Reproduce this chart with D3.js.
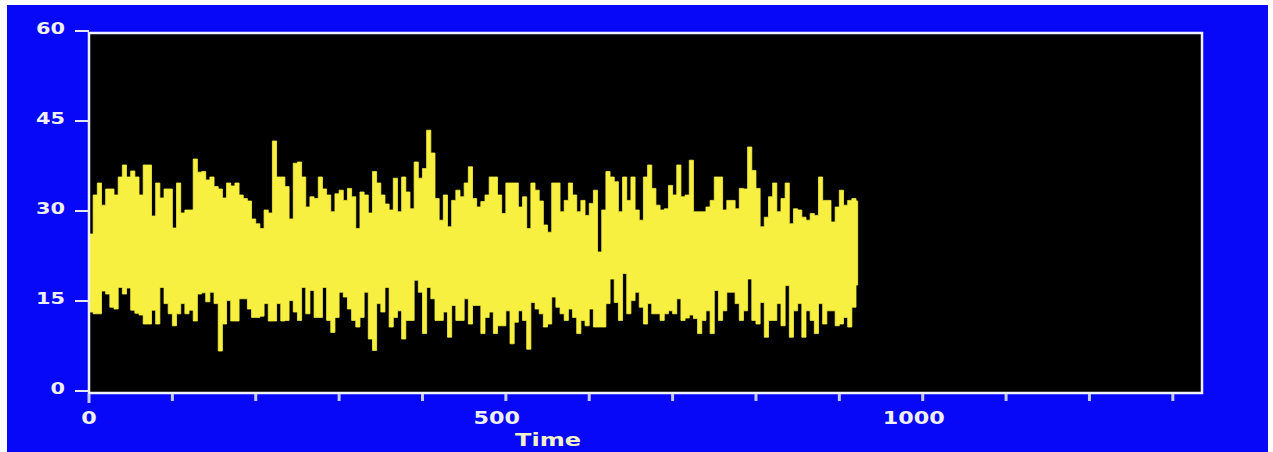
<!DOCTYPE html>
<html>
<head>
<meta charset="utf-8">
<script src="https://cdn.jsdelivr.net/npm/d3@7"></script>
<style>
  html, body { margin: 0; padding: 0; background: #ffffff; }
  svg { display: block; }
</style>
</head>
<body>
<svg id="chart"></svg>
<script>
// signal envelope, one value per 5 time units, starting at time 0
const timeStep = 5;

const upper = [
  26.5, 33, 35, 31.3, 34, 34, 33, 36, 38, 36, 37, 36, 33, 38, 38, 29.5, 35, 32.5, 34, 34,
  27.5, 35, 30, 30.5, 30.5, 39, 36.8, 36.9, 35.5, 36, 34.4, 34, 32.5, 35, 34.5, 35, 33, 32.4, 32, 29,
  28.2, 27.4, 30.5, 30, 42, 36, 36,
  34.4, 29, 38.3, 38.5, 36, 31, 32.7, 32.4, 36, 34, 33, 30.2, 33.2, 33.8, 32.1, 34.1, 32.7, 27.4, 33.5, 33,
  30, 36.9, 35, 33, 31.5, 30.5, 35.8, 30.2, 36, 33.5, 30.7, 38.5, 35.8, 37.4, 43.8, 40, 32.4, 28.8, 33, 27.7,
  32.1, 33.8, 32.7, 35, 37.7, 32.4, 31,
  31.9, 33, 36, 36, 33, 29.9, 35, 35, 35, 31, 32.7, 27.4, 35, 33.8, 32, 28, 26.8, 35, 35, 30.2,
  32.1, 35, 33, 30.2, 32.1, 29.6, 31.6, 33.8, 23.5, 30.5, 36.9, 36, 35.2, 30.2, 36, 32.1, 36, 30.5, 28.8, 36,
  38, 34.1, 31.3, 30.5, 30.7, 34.6,
  33, 38, 32.7, 33, 38.8, 30.2, 30.2, 30.2, 31, 32.1, 36, 36, 30.5, 32.1, 32.1, 30.7, 34.1, 34, 41, 37.1,
  34.1, 27.7, 29.3, 32.7, 35, 30.2, 32.4, 35, 28.2, 30.7, 30.5, 29.3, 28.8, 29.9, 29.6, 36, 32.1, 32.1, 28.5, 31,
  33.8, 31.3, 32.1, 32.4, 32
];

const lower = [
  13.5, 13.2, 13.2, 17, 16.5, 14.3, 14, 17.6, 16.5, 17.5, 13.8, 13.3, 13, 11.5, 11.5, 13.8, 11.5, 17.6, 14.9, 13.2,
  11.2, 13.2, 14.9, 13.2, 13.8, 12, 16.5, 16.7, 15.2, 16.8, 14.9, 7, 11.5, 15.4, 12, 12, 15.7, 15.7, 14, 12.6,
  12.6, 12.8, 14.9, 12, 12, 14.9, 12,
  12.1, 15.4, 13.5, 12.1, 17.6, 13.2, 17.1, 12.6, 12.6, 17.6, 12.1, 10.1, 12.6, 16.8, 16, 14, 12.1, 11, 12.6, 16.8,
  9, 7.1, 14.9, 13.5, 17.6, 11, 12.6, 13.7, 9, 12.1, 12.1, 18.8, 16.8, 9.9, 17.6, 15.7, 12.1, 12.1, 13.5, 9.3,
  14.6, 12.1, 12.1, 15.7, 11.5, 14.6, 14.6,
  9.9, 12.6, 13.5, 9.9, 11.2, 11.2, 13.7, 8.2, 11.8, 13.7, 12.1, 7.3, 15.1, 14, 13.2, 11, 11.5, 16, 14.3, 13.2,
  12.1, 14, 12.6, 9.9, 12.1, 11.2, 14, 11, 11, 11, 14.9, 19, 15.1, 12.1, 19.9, 13.2, 15.4, 16.8, 14.3, 11.5,
  14.9, 13.2, 13.2, 12.1, 13.2, 13.7,
  13.2, 15.7, 12.1, 12.5, 13, 12.4, 9.9, 12.1, 13.7, 9.9, 17.1, 12.1, 13.7, 16.8, 16.8, 14.9, 12.1, 13.7, 19, 12.1,
  11.5, 15.1, 9.3, 12.1, 12.1, 14.9, 11.2, 17.9, 9.3, 13.7, 14.9, 9.3, 13.7, 12.1, 9.9, 14.9, 11.5, 13.7, 13.7, 11.2,
  11.5, 12.6, 11, 14.3, 18
];

const yTicks = [0, 15, 30, 45, 60];
const xTicks = [0, 100, 200, 300, 400, 500, 600, 700, 800, 900, 1000, 1100, 1200, 1300];
const xLabels = [0, 500, 1000];
const xTitle = 'Time';

const width = 1273,
  height = 452,
  plot = { left: 89, top: 33, right: 1202, bottom: 393 };

let svg = d3.select('#chart')
  .attr('width', width)
  .attr('height', height);

// blue panel with a thin white margin
svg.append('rect')
  .attr('x', 7).attr('y', 5)
  .attr('width', 1261).attr('height', height - 5)
  .attr('fill', '#0808f8');

svg.append('rect')
  .attr('x', plot.left).attr('y', plot.top)
  .attr('width', plot.right - plot.left).attr('height', plot.bottom - plot.top)
  .attr('fill', '#000000');

let x = d3.scaleLinear().domain([0, 1335]).range([plot.left, plot.right]);
let y = d3.scaleLinear().domain([0, 60]).range([plot.bottom, plot.top]);

let series = upper.map((u, i) => ({ t: i * timeStep, hi: u, lo: lower[i] }));
// close the last step
let last = series[series.length - 1];
series.push({ t: last.t + 2, hi: last.hi, lo: last.lo });

let band = d3.area()
  .x(d => x(d.t))
  .y0(d => y(d.lo))
  .y1(d => y(d.hi))
  .curve(d3.curveStepAfter);

svg.append('path')
  .datum(series)
  .attr('d', band)
  .attr('fill', '#f8f040')
  .attr('stroke', '#f8f040')
  .attr('stroke-width', 0.8);

// frame
svg.append('rect')
  .attr('x', plot.left).attr('y', plot.top)
  .attr('width', plot.right - plot.left).attr('height', plot.bottom - plot.top)
  .attr('fill', 'none')
  .attr('stroke', '#eef0ff')
  .attr('stroke-width', 2.5);

// x ticks
svg.selectAll('.xtick')
  .data(xTicks)
  .enter()
  .append('line')
  .classed('xtick', true)
  .attr('x1', d => x(d)).attr('x2', d => x(d))
  .attr('y1', plot.bottom + 1).attr('y2', d => plot.bottom + (d === 0 ? 10 : 8))
  .attr('stroke', '#c4c8f4')
  .attr('stroke-width', 3);

const labelFont = 'DejaVu Sans, Verdana, sans-serif';

svg.selectAll('.xlabel')
  .data(xLabels)
  .enter()
  .append('text')
  .classed('xlabel', true)
  .attr('x', d => x(d) + (String(d).length > 1 ? -9 : 0))
  .attr('y', 424)
  .attr('text-anchor', 'middle')
  .attr('font-family', labelFont)
  .attr('font-weight', 'bold')
  .attr('font-size', '17px')
  .attr('textLength', d => String(d).length * 15.5)
  .attr('lengthAdjust', 'spacingAndGlyphs')
  .attr('fill', '#eef0f6')
  .text(d => d);

// y ticks
svg.selectAll('.ytick')
  .data(yTicks)
  .enter()
  .append('line')
  .classed('ytick', true)
  .attr('x1', 75).attr('x2', plot.left)
  .attr('y1', d => y(d) - 2).attr('y2', d => y(d) - 2)
  .attr('stroke', '#e6e8f8')
  .attr('stroke-width', 2);

svg.selectAll('.ylabel')
  .data(yTicks)
  .enter()
  .append('text')
  .classed('ylabel', true)
  .attr('x', 65)
  .attr('y', d => y(d) + 1)
  .attr('text-anchor', 'end')
  .attr('font-family', labelFont)
  .attr('font-weight', 'bold')
  .attr('font-size', '16px')
  .attr('textLength', d => String(d).length * 14.5)
  .attr('lengthAdjust', 'spacingAndGlyphs')
  .attr('fill', '#eef0f6')
  .text(d => d);

svg.append('text')
  .attr('x', 548)
  .attr('y', 446)
  .attr('text-anchor', 'middle')
  .attr('font-family', labelFont)
  .attr('font-weight', 'bold')
  .attr('font-size', '17px')
  .attr('textLength', 66)
  .attr('lengthAdjust', 'spacingAndGlyphs')
  .attr('fill', '#f2f0c8')
  .text(xTitle);
</script>
</body>
</html>
